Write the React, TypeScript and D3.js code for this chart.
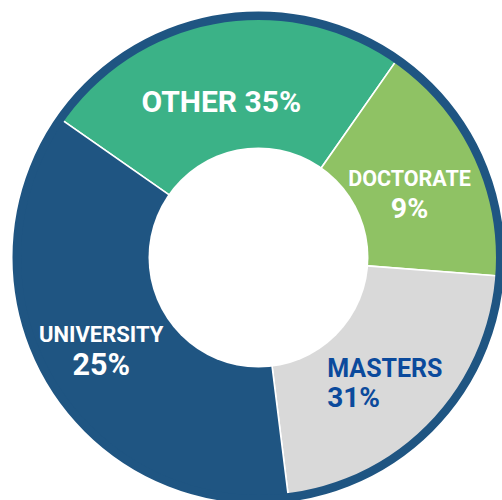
import React from "react";
import * as d3 from "d3";

// Slices in the order drawn clockwise, starting at upper-left boundary
const categories = ["OTHER", "DOCTORATE", "MASTERS", "UNIVERSITY"];
const labelPercents = ["35%", "9%", "31%", "25%"];
// angular share of each slice as it appears in the picture
const sliceShares = [25, 16.5, 21.8, 36.7];
const sliceColors = ["#3bb287", "#8fc264", "#d9d9d9", "#1f5582"];
const textColors = ["#ffffff", "#ffffff", "#0b4a9c", "#ffffff"];

const W = 502;
const H = 500;
const cx = 258.5;
const cy = 257.5;
const R = 246;
const ringW = 8.5;
const innerR = 110;

type LabelStyle = { dx: number; dy1: number; dy2: number; size1: number; size2: number; anchor: string; single?: boolean };
const labelStyles: LabelStyle[] = [
  { dx: -7, dy1: 26, dy2: 0, size1: 30, size2: 30, anchor: "middle", single: true },
  { dx: -6, dy1: 3, dy2: 35, size1: 21.5, size2: 28.5, anchor: "middle" },
  { dx: -57, dy1: 0, dy2: 30, size1: 25, size2: 28, anchor: "start" },
  { dx: -8.5, dy1: -5, dy2: 28, size1: 22, size2: 30.5, anchor: "middle" },
];

export default function App() {
  const pie = d3
    .pie<number>()
    .sort(null)
    .value((d) => d)
    .startAngle((-55 * Math.PI) / 180)
    .endAngle((305 * Math.PI) / 180);
  const arcs = pie(sliceShares);
  const arc = d3.arc<d3.PieArcDatum<number>>().innerRadius(innerR - 4).outerRadius(R - 2);
  const labelArc = d3.arc<d3.PieArcDatum<number>>().innerRadius(innerR).outerRadius(R - ringW);

  return (
    <svg
      width={W}
      height={H}
      style={{ position: "absolute", left: 0, top: 0, background: "#fff" }}
      fontFamily="Roboto, 'DejaVu Sans', sans-serif"
      fontWeight="bold"
    >
      <g transform={`translate(${cx},${cy})`}>
        {arcs.map((a, i) => (
          <path key={i} d={arc(a) || ""} fill={sliceColors[i]} stroke="#fff" strokeWidth={1.6} strokeLinejoin="miter" />
        ))}
        <circle r={R - ringW / 2} fill="none" stroke="#1f5582" strokeWidth={ringW} />
        <circle r={innerR} fill="#fff" />
        {arcs.map((a, i) => {
          const [x, y] = labelArc.centroid(a);
          const s = labelStyles[i];
          if (s.single) {
            return (
              <text key={i} x={x + s.dx} y={y + s.dy1} textAnchor={s.anchor} fill={textColors[i]} fontSize={s.size1}>
                {categories[i] + " " + labelPercents[i]}
              </text>
            );
          }
          return (
            <g key={i} fill={textColors[i]} textAnchor={s.anchor}>
              <text x={x + s.dx} y={y + s.dy1} fontSize={s.size1}>
                {categories[i]}
              </text>
              <text x={x + s.dx} y={y + s.dy2} fontSize={s.size2}>
                {labelPercents[i]}
              </text>
            </g>
          );
        })}
      </g>
    </svg>
  );
}
